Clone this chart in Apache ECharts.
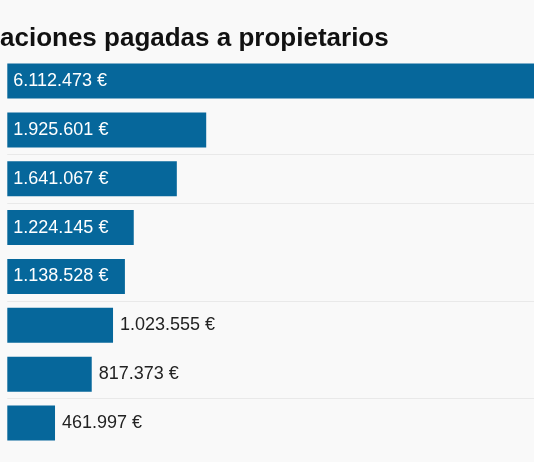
<!DOCTYPE html>
<html>
<head>
<meta charset="utf-8">
<script src="https://cdn.jsdelivr.net/npm/echarts@6/dist/echarts.min.js"></script>
<style>
html,body{margin:0;padding:0;background:#f9f9f9;overflow:hidden;width:534px;height:462px;}
#chart{width:639px;height:462px;}
</style>
</head>
<body>
<div id="chart"></div>
<script>
// Data
const titleText = "aciones pagadas a propietarios";
const categories = ["A", "B", "C", "D", "E", "F", "G", "H"];
const values = [6112473, 1925601, 1641067, 1224145, 1138528, 1023555, 817373, 461997];
const separatorBefore = [2, 3, 5, 7]; // row indices preceded by a faint rule

function fmt(v) {
  return String(v).replace(/\B(?=(\d{3})+(?!\d))/g, ".") + " €";
}

const chart = echarts.init(document.getElementById('chart'), null, {renderer: 'canvas'});
const barColor = '#06679b';
const ruleColor = '#e9e9e9';

// one colour per split line (boundaries 0..n), transparent where no rule
const ruleColors = [];
for (let i = 0; i <= categories.length; i++) {
  ruleColors.push(separatorBefore.indexOf(i) >= 0 ? ruleColor : 'rgba(0,0,0,0)');
}

const seriesData = values.map(function (v) {
  const inside = v > 1100000;
  return {
    value: v,
    label: inside
      ? {position: 'insideLeft', distance: 6, color: '#ffffff'}
      : {position: 'right', distance: 7, color: '#222222'}
  };
});

chart.setOption({
  backgroundColor: '#f9f9f9',
  animation: false,
  title: {
    text: titleText,
    left: -5,
    top: 21,
    textStyle: {
      fontFamily: 'Liberation Sans',
      fontWeight: 'bold',
      fontSize: 26,
      color: '#111111'
    }
  },
  grid: {
    left: 7.3,
    right: 0.3,
    top: 56.6,
    bottom: 14.6,
    containLabel: false
  },
  xAxis: {
    type: 'value',
    min: 0,
    max: 6112473,
    show: false
  },
  yAxis: {
    type: 'category',
    data: categories,
    inverse: true,
    axisLine: {show: false},
    axisTick: {show: false},
    axisLabel: {show: false},
    splitLine: {
      show: true,
      interval: 0,
      lineStyle: {color: ruleColors, width: 1}
    }
  },
  series: [{
    type: 'bar',
    data: seriesData,
    barWidth: 35,
    itemStyle: {color: barColor},
    label: {
      show: true,
      formatter: function (p) { return fmt(p.value); },
      fontFamily: 'Liberation Sans',
      fontSize: 18,
      letterSpacing: -0.5
    }
  }]
});
</script>
</body>
</html>
